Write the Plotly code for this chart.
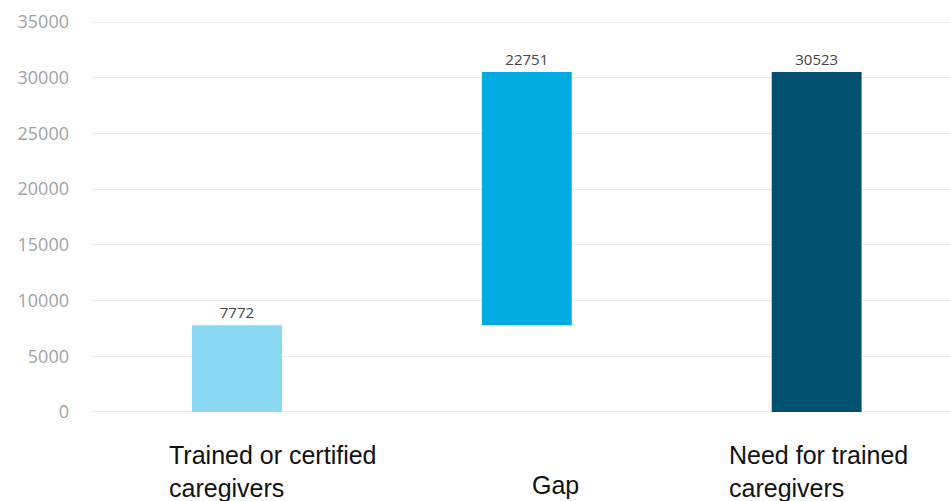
import plotly.graph_objects as go

# Caregiver supply vs. need, shown as a simple waterfall
categories = ["Trained or certified caregivers", "Gap", "Need for trained caregivers"]
values = [7772, 22751, 30523]
bases = [0, 7772, 0]
colors = ["#8ad7f3", "#00abe2", "#01506f"]
tick_vals = [0, 5000, 10000, 15000, 20000, 25000, 30000, 35000]
tick_text = [str(v) for v in tick_vals]

# category captions drawn below the axis
captions = ["Trained or certified<br>caregivers", "Gap", "Need for trained<br>caregivers"]

fig = go.Figure()
fig.add_trace(go.Bar(
    x=list(range(len(categories))),
    y=values,
    base=bases,
    width=0.31,
    marker=dict(color=colors, line=dict(width=0)),
    text=[str(v) for v in values],
    textposition="outside",
    textfont=dict(family="Open Sans, sans-serif", size=15, color="#444444"),
    cliponaxis=False,
    hovertext=categories,
))

fig.update_layout(
    width=950, height=501,
    margin=dict(l=92, r=0, t=21, b=88),
    paper_bgcolor="white", plot_bgcolor="white",
    showlegend=False,
    xaxis=dict(range=[-0.5, 2.46], showticklabels=False, showgrid=False,
               zeroline=False, showline=False, ticks=""),
    yaxis=dict(range=[-100, 35100], tickvals=tick_vals, ticktext=tick_text,
               tickfont=dict(family="Open Sans, sans-serif", size=18, color="#a3a3a3"),
               gridcolor="#ebebeb", gridwidth=1, zeroline=False, showline=False,
               ticklabelstandoff=22),
)

cap_font = dict(family="Liberation Sans, Arial, sans-serif", size=25, color="#111111")
fig.add_annotation(x=-0.242, y=-0.066, xref="x", yref="paper", text=captions[0],
                   showarrow=False, xanchor="left", yanchor="top", align="left",
                   font=cap_font)
fig.add_annotation(x=1.1, y=-0.143, xref="x", yref="paper", text=captions[1],
                   showarrow=False, xanchor="center", yanchor="top", align="center",
                   font=cap_font)
fig.add_annotation(x=1.69, y=-0.066, xref="x", yref="paper", text=captions[2],
                   showarrow=False, xanchor="left", yanchor="top", align="left",
                   font=cap_font)

fig.write_html("out.html")
